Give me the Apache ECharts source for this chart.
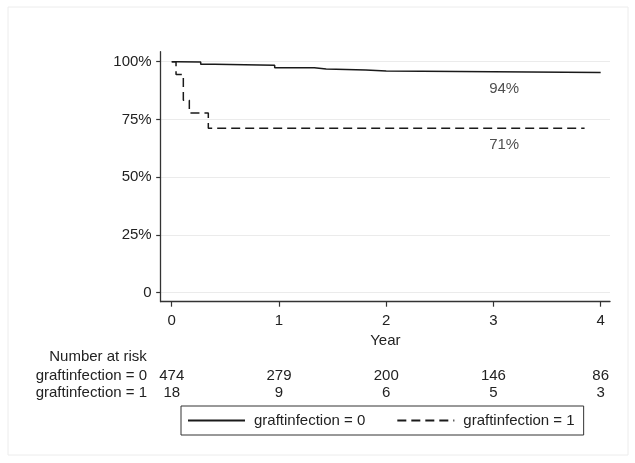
<!DOCTYPE html>
<html>
<head>
<meta charset="utf-8">
<script src="https://cdn.jsdelivr.net/npm/echarts@6/dist/echarts.min.js"></script>
<style>html,body{margin:0;padding:0;background:#fff;}#c{width:635px;height:463px;}</style>
</head>
<body>
<div id="c"></div>
<script>
// Kaplan-Meier steps (years, survival %)
var group0Times = [0, 0.05, 0.27, 0.40, 0.96, 1.33, 1.44, 1.81, 2.00, 4.00];
var group0Surv  = [100, 99.8, 98.9, 98.4, 97.4, 96.8, 96.4, 96.0, 95.3, 95.3];
var group1Times = [0, 0.04, 0.108, 0.164, 0.341, 3.85];
var group1Surv  = [100, 94.4, 83.3, 77.8, 71.2, 71.2];
var seriesNames = ['graftinfection = 0', 'graftinfection = 1'];
var yTicks = [0, 25, 50, 75, 100];
var yTickLabels = ['0', '25%', '50%', '75%', '100%'];
var xTicks = [0, 1, 2, 3, 4];
var atRisk0 = [474, 279, 200, 146, 86];
var atRisk1 = [18, 9, 6, 5, 3];
var endLabels = ['94%', '71%'];
var endLabelX = [3.1, 3.1];
var endLabelY = [88.2, 63.9];

var FONT = 'Liberation Sans, Arial, sans-serif';
var TXT = '#222';
var FS = 15;

function pairs(t, s) { return t.map(function (v, i) { return [v, s[i]]; }); }

var chart = echarts.init(document.getElementById('c'), null, { renderer: 'canvas' });

function riskAxis(counts, offset) {
  return {
    type: 'value', gridIndex: 0, position: 'bottom', offset: offset,
    min: -0.103, max: 4.087,
    axisLine: { show: false }, axisTick: { show: false }, splitLine: { show: false },
    axisLabel: {
      customValues: xTicks, margin: 0, verticalAlign: 'middle',
      color: TXT, fontFamily: FONT, fontSize: FS,
      formatter: function (v) { var i = xTicks.indexOf(Math.round(v)); return i >= 0 ? String(counts[i]) : ''; }
    }
  };
}

function txt(s, x, y, align) {
  return { type: 'text', x: x, y: y, silent: true,
    style: { text: s, fill: TXT, font: FS + 'px ' + FONT, textAlign: align, textVerticalAlign: 'middle' } };
}

var option = {
  backgroundColor: '#fff',
  animation: false,
  textStyle: { fontFamily: FONT },
  graphic: [
    { type: 'rect', shape: { x: 8, y: 7, width: 620, height: 448 }, style: { fill: 'none', stroke: '#ececec', lineWidth: 1 }, silent: true },
    txt('Number at risk', 98, 357, 'center'),
    txt(seriesNames[0], 147, 376, 'right'),
    txt(seriesNames[1], 147, 392.5, 'right')
  ],
  grid: { left: 160.7, right: 25, top: 51.7, bottom: 161.3, containLabel: false },
  legend: {
    left: 181, top: 406,
    orient: 'horizontal',
    padding: [7, 9, 7, 6],
    borderColor: '#333', borderWidth: 1,
    itemWidth: 57, itemHeight: 14, itemGap: 31,
    itemStyle: { color: 'rgba(0,0,0,0)', borderWidth: 0, opacity: 0 },
    textStyle: { color: TXT, fontFamily: FONT, fontSize: FS, padding: [0, 0, 0, 4] },
    data: seriesNames
  },
  xAxis: [
    {
      type: 'value', gridIndex: 0, min: -0.103, max: 4.087,
      name: 'Year', nameLocation: 'middle', nameGap: 27,
      nameTextStyle: { color: TXT, fontFamily: FONT, fontSize: FS },
      axisLine: { onZero: false, lineStyle: { color: '#333', width: 1.3 } },
      axisTick: { show: true, customValues: xTicks, length: 5, lineStyle: { color: '#333', width: 1.2 } },
      axisLabel: { customValues: xTicks, margin: 12, color: TXT, fontFamily: FONT, fontSize: FS },
      splitLine: { show: false }
    },
    riskAxis(atRisk0, 74),
    riskAxis(atRisk1, 91)
  ],
  yAxis: {
    type: 'value', min: -3.9, max: 104.3,
    axisLine: { show: true, onZero: false, lineStyle: { color: '#333', width: 1.3 } },
    axisTick: { show: true, customValues: yTicks, length: 4.5, lineStyle: { color: '#333', width: 1.2 } },
    axisLabel: {
      customValues: yTicks, margin: 9, color: TXT, fontFamily: FONT, fontSize: FS,
      formatter: function (v) { var i = yTicks.indexOf(Math.round(v)); return i >= 0 ? yTickLabels[i] : ''; }
    },
    splitLine: { show: true, lineStyle: { color: '#ebebeb', width: 1 } }
  },
  series: [
    {
      name: seriesNames[0], type: 'line', step: 'end', symbol: 'none',
      xAxisIndex: 0, yAxisIndex: 0,
      data: pairs(group0Times, group0Surv),
      lineStyle: { color: '#1a1a1a', width: 1.5, type: 'solid' },
      itemStyle: { color: '#1a1a1a' }
    },
    {
      name: seriesNames[1], type: 'line', step: 'end', symbol: 'none',
      xAxisIndex: 0, yAxisIndex: 0,
      data: pairs(group1Times, group1Surv),
      lineStyle: { color: '#1a1a1a', width: 1.5, type: [9, 5] },
      itemStyle: { color: '#1a1a1a' }
    },
    {
      name: 'labels', type: 'scatter', symbolSize: 0, xAxisIndex: 0, yAxisIndex: 0,
      data: endLabels.map(function (t, i) { return { value: [endLabelX[i], endLabelY[i]], name: t }; }),
      label: { show: true, position: 'inside', formatter: '{b}', color: TXT, fontFamily: FONT, fontSize: FS },
      silent: true
    }
  ]
};
chart.setOption(option);
</script>
</body>
</html>
